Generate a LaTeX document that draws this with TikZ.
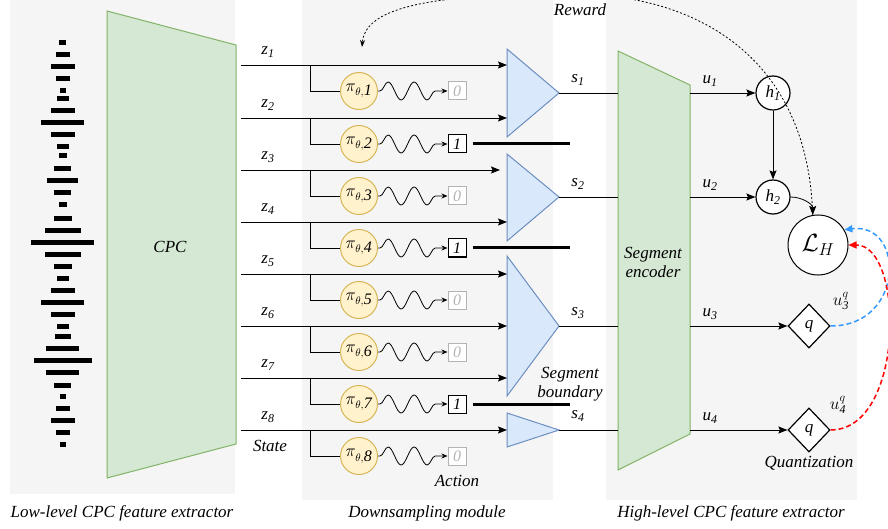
\documentclass[tikz,border=0pt]{standalone}
\usepackage{fontspec}
\setmainfont{Liberation Serif}
\usetikzlibrary{arrows.meta,shapes.geometric,decorations.pathmorphing}

\definecolor{panel}{HTML}{F5F5F5}
\definecolor{cpcfill}{HTML}{D5E8D4}
\definecolor{cpcdraw}{HTML}{82B366}
\definecolor{trifill}{HTML}{DAE8FC}
\definecolor{tridraw}{HTML}{6C8EBF}
\definecolor{polfill}{HTML}{FFF2CC}
\definecolor{poldraw}{HTML}{D6B656}
\definecolor{offgray}{HTML}{B3B3B3}
\definecolor{lossblue}{HTML}{3399FF}
\definecolor{lossred}{HTML}{FF0000}

\tikzset{
  lbl/.style={font=\fontsize{17}{19}\selectfont\itshape, inner sep=1pt},
  feed/.style={line width=0.9pt, -{Stealth[length=9pt,width=7pt,inset=1.5pt]}},
  pol/.style={circle, draw=poldraw, fill=polfill, line width=1pt, minimum size=37pt, inner sep=0pt, font=\fontsize{16}{18}\selectfont},
  actoff/.style={draw=offgray, text=offgray, fill=white, line width=1pt, minimum size=18pt, inner sep=0pt, font=\fontsize{16}{18}\selectfont\itshape},
  acton/.style={draw=black, fill=white, line width=1pt, minimum size=18pt, inner sep=0pt, font=\fontsize{16}{18}\selectfont\itshape},
  wave/.style={decorate, decoration={snake, amplitude=9pt, segment length=26pt, pre length=2pt, post length=5pt}, line width=0.8pt, -{Stealth[length=6pt,width=5pt]}},
  bound/.style={line width=3pt},
  hid/.style={circle, draw, fill=white, line width=1.2pt, minimum size=34pt, inner sep=0pt, font=\fontsize{17}{19}\selectfont\itshape},
  quant/.style={diamond, draw, fill=white, line width=1.2pt, minimum width=42pt, minimum height=44pt, inner sep=0pt, font=\fontsize{17}{19}\selectfont\itshape},
  lossline/.style={line width=1.5pt, dash pattern=on 5pt off 3pt, -{Triangle[length=8pt,width=7pt]}}
}

\begin{document}
\begin{tikzpicture}[x=1pt,y=-1pt]
  \useasboundingbox (0,0) rectangle (888,529);
  \clip (0,0) rectangle (888,529);
  \fill[panel] (10,0) rectangle (235,494);
  \fill[panel] (302,0) rectangle (553,500);
  \fill[panel] (606,0) rectangle (857,500);

  \foreach \y/\w in {42.3/7, 54.3/14, 66.7/24, 79/14, 91/6, 99/12, 110.7/24, 122.7/43,
    134.7/24, 146.7/12, 156/8, 168.3/17, 180.7/31, 192.7/17, 204.7/8, 218.3/18,
    230.3/36, 242.3/63, 254.3/36, 266.3/18, 278/12, 290/24, 302/43, 314/24,
    326/12, 336.7/16, 348.7/33, 360.7/58, 372.7/33, 385/17, 396.7/6, 408.3/14,
    420.7/24, 432.7/14, 444.7/6}
    \fill (62.5-\w/2,\y-2.5) rectangle (62.5+\w/2,\y+2.5);

  \draw[cpcdraw, fill=cpcfill, line width=1pt] (107,11) -- (236,45) -- (236,444) -- (107,478) -- cycle;
  \node[lbl] (cpc) at (170,247) {CPC};

  \draw[tridraw, fill=trifill, line width=1pt] (507,49) -- (559,93) coordinate (t1) -- (507,137) -- cycle;
  \draw[tridraw, fill=trifill, line width=1pt] (507,154) -- (559,197) coordinate (t2) -- (507,241) -- cycle;
  \draw[tridraw, fill=trifill, line width=1pt] (507,256) -- (559,326) coordinate (t3) -- (507,396) -- cycle;
  \draw[tridraw, fill=trifill, line width=1pt] (507,413) -- (559,430) coordinate (t4) -- (507,447) -- cycle;

  \draw[cpcdraw, fill=cpcfill, line width=1pt] (618,51) -- (690,85) -- (690,434) -- (618,470) -- cycle;
  \node[lbl, align=center] (enc) at (653,262) {Segment\\encoder};

  \draw
    (241,65) coordinate (z1)
    (241,118) coordinate (z2)
    (241,170) coordinate (z3)
    (241,222) coordinate (z4)
    (241,274) coordinate (z5)
    (241,326) coordinate (z6)
    (241,378) coordinate (z7)
    (241,430) coordinate (z8);
  \draw
    (507,65) coordinate (e1)
    (507,118) coordinate (e2)
    (500,170) coordinate (e3)
    (507,222) coordinate (e4)
    (507,274) coordinate (e5)
    (507,326) coordinate (e6)
    (507,378) coordinate (e7)
    (507,430) coordinate (e8);
  \draw
    (310,65) coordinate (b1)
    (310,118) coordinate (b2)
    (310,170) coordinate (b3)
    (310,222) coordinate (b4)
    (310,274) coordinate (b5)
    (310,326) coordinate (b6)
    (310,378) coordinate (b7)
    (310,430) coordinate (b8);

  \node[lbl] (lz1) at (268,52) {z\textsubscript{1}};
  \node[lbl] (lz2) at (268,105) {z\textsubscript{2}};
  \node[lbl] (lz3) at (268,157) {z\textsubscript{3}};
  \node[lbl] (lz4) at (268,209) {z\textsubscript{4}};
  \node[lbl] (lz5) at (268,261) {z\textsubscript{5}};
  \node[lbl] (lz6) at (268,313) {z\textsubscript{6}};
  \node[lbl] (lz7) at (268,365) {z\textsubscript{7}};
  \node[lbl] (lz8) at (268,417) {z\textsubscript{8}};
  \node[lbl] (state) at (270,446) {State};

  \node[pol] (p1) at (359,91) {$\pi_{\theta,\textit{1}}$};
  \node[pol] (p2) at (359,144) {$\pi_{\theta,\textit{2}}$};
  \node[pol] (p3) at (359,196) {$\pi_{\theta,\textit{3}}$};
  \node[pol] (p4) at (359,248) {$\pi_{\theta,\textit{4}}$};
  \node[pol] (p5) at (359,300) {$\pi_{\theta,\textit{5}}$};
  \node[pol] (p6) at (359,352) {$\pi_{\theta,\textit{6}}$};
  \node[pol] (p7) at (359,404) {$\pi_{\theta,\textit{7}}$};
  \node[pol] (p8) at (359,456) {$\pi_{\theta,\textit{8}}$};

  \node[actoff] (a1) at (457,91) {0};
  \node[acton] (a2) at (457,144) {1};
  \node[actoff] (a3) at (457,196) {0};
  \node[acton] (a4) at (457,248) {1};
  \node[actoff] (a5) at (457,300) {0};
  \node[actoff] (a6) at (457,352) {0};
  \node[acton] (a7) at (457,404) {1};
  \node[actoff] (a8) at (457,456) {0};
  \node[lbl] (action) at (457,481) {Action};

  \begin{scope}[feed]
    \draw (z1) to (e1);
    \draw (z2) to (e2);
    \draw (z3) to (e3);
    \draw (z4) to (e4);
    \draw (z5) to (e5);
    \draw (z6) to (e6);
    \draw (z7) to (e7);
    \draw (z8) to (e8);
  \end{scope}
  \begin{scope}[line width=0.9pt]
    \draw (b1) |- (p1.west);
    \draw (b2) |- (p2.west);
    \draw (b3) |- (p3.west);
    \draw (b4) |- (p4.west);
    \draw (b5) |- (p5.west);
    \draw (b6) |- (p6.west);
    \draw (b7) |- (p7.west);
    \draw (b8) |- (p8.west);
  \end{scope}
  \draw[wave] (p1.east) -- (a1.west);
  \draw[wave] (p2.east) -- (a2.west);
  \draw[wave] (p3.east) -- (a3.west);
  \draw[wave] (p4.east) -- (a4.west);
  \draw[wave] (p5.east) -- (a5.west);
  \draw[wave] (p6.east) -- (a6.west);
  \draw[wave] (p7.east) -- (a7.west);
  \draw[wave] (p8.east) -- (a8.west);
  \draw[bound] ([xshift=6pt]a2.east) -- ++(97,0);
  \draw[bound] ([xshift=6pt]a4.east) -- ++(97,0);
  \draw[bound] ([xshift=6pt]a7.east) -- ++(97,0);
  \node[lbl, align=center] (sb) at (570,384) {Segment\\boundary};

  \draw
    (618,93) coordinate (c1)
    (618,197) coordinate (c2)
    (618,326) coordinate (c3)
    (618,430) coordinate (c4);
  \begin{scope}[line width=0.9pt]
    \draw (t1) to (c1);
    \draw (t2) to (c2);
    \draw (t3) to (c3);
    \draw (t4) to (c4);
  \end{scope}
  \node[lbl] (ls1) at (578,80) {s\textsubscript{1}};
  \node[lbl] (ls2) at (578,184) {s\textsubscript{2}};
  \node[lbl] (ls3) at (578,313) {s\textsubscript{3}};
  \node[lbl] (ls4) at (578,416) {s\textsubscript{4}};

  \node[hid] (h1) at (773,93) {h\textsubscript{1}};
  \node[hid] (h2) at (773,197) {h\textsubscript{2}};
  \node[circle, draw, fill=white, line width=1pt, minimum size=60pt, inner sep=0pt, font=\fontsize{24}{26}\selectfont] (lh) at (818,245) {$\mathcal{L}_H$};
  \node[quant] (q1) at (809,326) {q};
  \node[quant] (q2) at (809,430) {q};
  \node[lbl] (quant) at (809,463) {Quantization};

  \draw
    (690,93) coordinate (d1)
    (690,197) coordinate (d2)
    (690,326) coordinate (d3)
    (690,430) coordinate (d4);
  \begin{scope}[feed]
    \draw (d1) to (h1.west);
    \draw (d2) to (h2.west);
    \draw (d3) to (q1.west);
    \draw (d4) to (q2.west);
    \draw (h1) to (h2);
    \draw[line width=0.8pt] (h2.east) to[out=0,in=90] (lh.100);
  \end{scope}
  \node[lbl] (lu1) at (710,81) {u\textsubscript{1}};
  \node[lbl] (lu2) at (710,185) {u\textsubscript{2}};
  \node[lbl] (lu3) at (710,314) {u\textsubscript{3}};
  \node[lbl] (lu4) at (710,418) {u\textsubscript{4}};
  \node[font=\fontsize{17}{19}\selectfont, inner sep=1pt] (lq3) at (841,301) {$u^{q}_{\mathit{3}}$};
  \node[font=\fontsize{17}{19}\selectfont, inner sep=1pt] (lq4) at (838,405) {$u^{q}_{\mathit{4}}$};

  \draw[lossline, lossblue] (q1.east) .. controls (905,326) and (905,222) .. (lh.30);
  \draw[lossline, lossred] (q2.east) .. controls (905,430) and (905,245) .. (lh.east);

  \coordinate (rw) at (362,47);
  \draw[line width=0.8pt, dash pattern=on 2pt off 2pt, -{Stealth[length=7pt,width=5pt]}]
    (lh.100) .. controls (808,60) and (700,-8) .. (565,-6) .. controls (420,-6) and (365,10) .. (rw);
  \node[lbl] (reward) at (580,10) {Reward};

  \node[lbl] (low) at (122,513) {Low-level CPC feature extractor};
  \node[lbl] (down) at (427,513) {Downsampling module};
  \node[lbl] (high) at (731,513) {High-level CPC feature extractor};
\end{tikzpicture}
\end{document}
